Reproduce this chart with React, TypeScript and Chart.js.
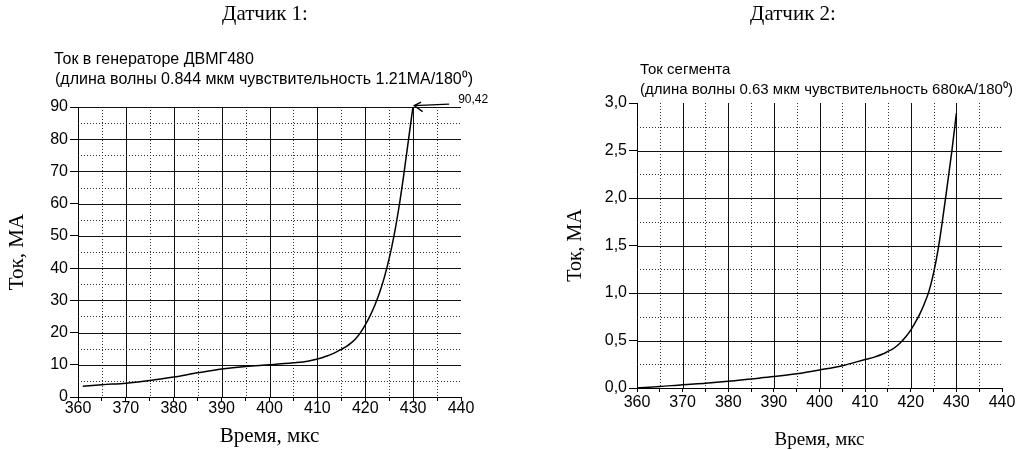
import React, { useEffect, useRef } from 'react';
import { Chart, registerables } from 'chart.js';

Chart.register(...registerables);

// ---------- text ----------
const TITLE_1 = 'Датчик 1:';
const TITLE_2 = 'Датчик 2:';
const SUB1_LINE1 = 'Ток в генераторе ДВМГ480';
const SUB1_LINE2 = '(длина волны 0.844 мкм чувствительность 1.21МА/180⁰)';
const SUB2_LINE1 = 'Ток сегмента';
const SUB2_LINE2 = '(длина волны 0.63 мкм чувствительность 680кА/180⁰)';
const X_TITLE = 'Время, мкс';
const Y_TITLE = 'Ток, МА';
const PEAK_LABEL = '90,42';

// ---------- data ----------
const time1 = [361, 365, 370, 375, 380, 385, 390, 395, 400, 405, 408, 410, 411, 412, 413, 414, 415, 416, 417, 418, 419, 420, 421, 422, 423, 424, 425, 426, 427, 428, 429, 430];
const current1 = [3.3, 3.8, 4.3, 5.1, 6.2, 7.5, 8.7, 9.5, 10.0, 10.6, 11.1, 11.8, 12.2, 12.7, 13.3, 14.0, 14.8, 15.6, 16.7, 18.1, 20.0, 22.4, 25.2, 28.5, 32.4, 37.2, 43, 50, 58.5, 68.5, 79.5, 90.42];

const time2 = [360, 365, 370, 375, 380, 385, 390, 395, 400, 405, 410, 412, 414, 415, 416, 417, 418, 419, 420, 421, 422, 423, 424, 425, 426, 427, 428, 429, 430];
const current2 = [0, 0.015, 0.035, 0.05, 0.07, 0.095, 0.12, 0.15, 0.19, 0.235, 0.30, 0.325, 0.36, 0.385, 0.41, 0.445, 0.49, 0.545, 0.61, 0.69, 0.78, 0.89, 1.02, 1.21, 1.46, 1.78, 2.13, 2.49, 2.89];

const X_MIN = 360;
const X_MAX = 440;
const X_STEP = 5;
const Y1_MAX = 90;
const Y1_STEP = 5;
const Y2_MAX = 3;
const Y2_STEP = 0.25;

const PEAK_X = 430;
const PEAK_Y = 90.42;

// ---------- styles ----------
const SANS = "Arial, 'Liberation Sans', sans-serif";
const SERIF = "'Times New Roman', 'Liberation Serif', serif";

const isMult = (v: number, m: number) => Math.abs(v / m - Math.round(v / m)) < 1e-6;

type TextItem = { text: string; x: number; y: number; font: string; align: CanvasTextAlign };

function makeTextPlugin(items: TextItem[]) {
  return {
    id: 'texts',
    afterDraw(chart: any) {
      const ctx = chart.ctx as CanvasRenderingContext2D;
      ctx.save();
      ctx.fillStyle = '#000';
      ctx.textBaseline = 'alphabetic';
      items.forEach((it) => {
        ctx.font = it.font;
        ctx.textAlign = it.align;
        ctx.fillText(it.text, it.x, it.y);
      });
      ctx.restore();
    },
  };
}

function makeGridPlugin(yMajor: number, drawTop: boolean) {
  return {
    id: 'customGrid',
    beforeDatasetsDraw(chart: any) {
      const ctx = chart.ctx as CanvasRenderingContext2D;
      const { left, right, top, bottom } = chart.chartArea;
      const xs = chart.scales.x;
      const ys = chart.scales.y;
      ctx.save();
      ctx.lineWidth = 1;
      xs.ticks.forEach((t: any) => {
        const v = t.value;
        if (v <= xs.min || v >= xs.max) return;
        const px = Math.round(xs.getPixelForValue(v)) + 0.5;
        const major = isMult(v, 10);
        ctx.strokeStyle = major ? '#111' : '#333';
        ctx.setLineDash(major ? [] : [1, 2]);
        ctx.beginPath();
        ctx.moveTo(px, top);
        ctx.lineTo(px, bottom);
        ctx.stroke();
      });
      ys.ticks.forEach((t: any) => {
        const v = t.value;
        if (v <= ys.min) return;
        if (v >= ys.max && !drawTop) return;
        const py = Math.round(ys.getPixelForValue(v)) + 0.5;
        const major = isMult(v, yMajor);
        ctx.strokeStyle = major ? '#111' : '#333';
        ctx.setLineDash(major ? [] : [1, 2]);
        ctx.beginPath();
        ctx.moveTo(left, py);
        ctx.lineTo(right, py);
        ctx.stroke();
      });
      ctx.restore();
    },
  };
}

const arrowPlugin = {
  id: 'peakArrow',
  afterDatasetsDraw(chart: any) {
    const ctx = chart.ctx as CanvasRenderingContext2D;
    const xs = chart.scales.x;
    const ys = chart.scales.y;
    const tx = xs.getPixelForValue(PEAK_X);
    const ty = ys.getPixelForValue(PEAK_Y);
    ctx.save();
    ctx.strokeStyle = '#000';
    ctx.lineWidth = 1.3;
    ctx.beginPath();
    ctx.moveTo(tx + 36, ty - 1.5);
    ctx.lineTo(tx + 1, ty);
    ctx.moveTo(tx + 8, ty - 3.5);
    ctx.lineTo(tx + 1, ty);
    ctx.lineTo(tx + 9.5, ty + 6);
    ctx.stroke();
    ctx.fillStyle = '#000';
    ctx.font = `12px ${SANS}`;
    ctx.textAlign = 'left';
    ctx.textBaseline = 'alphabetic';
    ctx.fillText(PEAK_LABEL, tx + 45, ty - 3);
    ctx.restore();
  },
};

function buildConfig(opts: {
  xs: number[];
  ys: number[];
  yMax: number;
  yStep: number;
  yMajor: number;
  yFmt: (v: number) => string;
  yWidth: number;
  xHeight: number;
  pad: { left: number; right: number; top: number; bottom: number };
  xTitleFont: number;
  xTitlePad: number;
  yTitleFont: number;
  yTitlePad: number;
  xLabelPad: number;
  plugins: any[];
}) {
  const data = opts.xs.map((x, i) => ({ x, y: opts.ys[i] }));
  return {
    type: 'line' as const,
    data: {
      datasets: [
        {
          data,
          borderColor: '#000',
          borderWidth: 1.5,
          pointRadius: 0,
          fill: false,
          cubicInterpolationMode: 'monotone' as const,
        },
      ],
    },
    options: {
      animation: false as const,
      responsive: false,
      layout: { padding: opts.pad },
      plugins: {
        legend: { display: false },
        tooltip: { enabled: false },
      },
      scales: {
        x: {
          type: 'linear' as const,
          min: X_MIN,
          max: X_MAX,
          afterFit: (s: any) => {
            s.height = opts.xHeight;
          },
          ticks: {
            stepSize: X_STEP,
            autoSkip: false,
            maxRotation: 0,
            padding: opts.xLabelPad,
            color: '#000',
            font: { family: SANS, size: 16, lineHeight: 1 },
            callback: (v: any) => (isMult(Number(v), 10) ? String(v) : ''),
          },
          grid: {
            display: true,
            drawOnChartArea: false,
            drawTicks: true,
            tickLength: 4,
            tickColor: '#000',
          },
          border: { display: true, color: '#000', width: 1 },
          title: {
            display: true,
            text: X_TITLE,
            color: '#000',
            font: { family: SERIF, size: opts.xTitleFont, lineHeight: 1 },
            padding: { top: 0, bottom: opts.xTitlePad },
          },
        },
        y: {
          type: 'linear' as const,
          min: 0,
          max: opts.yMax,
          afterFit: (s: any) => {
            s.width = opts.yWidth;
          },
          ticks: {
            stepSize: opts.yStep,
            autoSkip: false,
            padding: 2,
            color: '#000',
            font: { family: SANS, size: 16, lineHeight: 1 },
            callback: (v: any) => (isMult(Number(v), opts.yMajor) ? opts.yFmt(Number(v)) : ''),
          },
          grid: {
            display: true,
            drawOnChartArea: false,
            drawTicks: true,
            tickLength: 8,
            tickColor: (c: any) =>
              c.tick && isMult(c.tick.value, opts.yMajor) ? '#000' : 'rgba(0,0,0,0)',
          },
          border: { display: true, color: '#000', width: 1 },
          title: {
            display: true,
            text: Y_TITLE,
            color: '#000',
            font: { family: SERIF, size: opts.yTitleFont, lineHeight: 1 },
            padding: { top: opts.yTitlePad, bottom: 0 },
          },
        },
      },
    },
    plugins: opts.plugins,
  };
}

export default function App() {
  const ref1 = useRef<HTMLCanvasElement>(null);
  const ref2 = useRef<HTMLCanvasElement>(null);

  useEffect(() => {
    const c1 = new Chart(
      ref1.current as HTMLCanvasElement,
      buildConfig({
        xs: time1,
        ys: current1,
        yMax: Y1_MAX,
        yStep: Y1_STEP,
        yMajor: 10,
        yFmt: (v) => String(v),
        yWidth: 78,
        xHeight: 53,
        pad: { left: 0, right: 50, top: 107, bottom: 0 },
        xTitleFont: 21,
        xTitlePad: 3,
        yTitleFont: 21,
        yTitlePad: 7,
        xLabelPad: 0,
        plugins: [
          makeGridPlugin(10, true),
          arrowPlugin,
          makeTextPlugin([
            { text: TITLE_1, x: 265, y: 20, font: `21px ${SERIF}`, align: 'center' },
            { text: SUB1_LINE1, x: 54, y: 64, font: `16px ${SANS}`, align: 'left' },
            { text: SUB1_LINE2, x: 55, y: 84, font: `16px ${SANS}`, align: 'left' },
          ]),
        ],
      }) as any
    );
    const c2 = new Chart(
      ref2.current as HTMLCanvasElement,
      buildConfig({
        xs: time2,
        ys: current2,
        yMax: Y2_MAX,
        yStep: Y2_STEP,
        yMajor: 0.5,
        yFmt: (v) => v.toFixed(1).replace('.', ','),
        yWidth: 126,
        xHeight: 62,
        pad: { left: 0, right: 20, top: 103, bottom: 0 },
        xTitleFont: 19,
        xTitlePad: 0,
        yTitleFont: 20,
        yTitlePad: 55,
        xLabelPad: 3,
        plugins: [
          makeGridPlugin(0.5, false),
          makeTextPlugin([
            { text: TITLE_2, x: 282, y: 20, font: `21px ${SERIF}`, align: 'center' },
            { text: SUB2_LINE1, x: 129, y: 74, font: `15px ${SANS}`, align: 'left' },
            { text: SUB2_LINE2, x: 129, y: 94, font: `15px ${SANS}`, align: 'left' },
          ]),
        ],
      }) as any
    );
    return () => {
      c1.destroy();
      c2.destroy();
    };
  }, []);

  return (
    <div style={{ position: 'absolute', left: 0, top: 0, width: 1022, height: 450, overflow: 'hidden', background: '#fff' }}>
      <canvas ref={ref1} width={511} height={450} style={{ position: 'absolute', left: 0, top: 0 }} />
      <canvas ref={ref2} width={511} height={450} style={{ position: 'absolute', left: 511, top: 0 }} />
    </div>
  );
}
